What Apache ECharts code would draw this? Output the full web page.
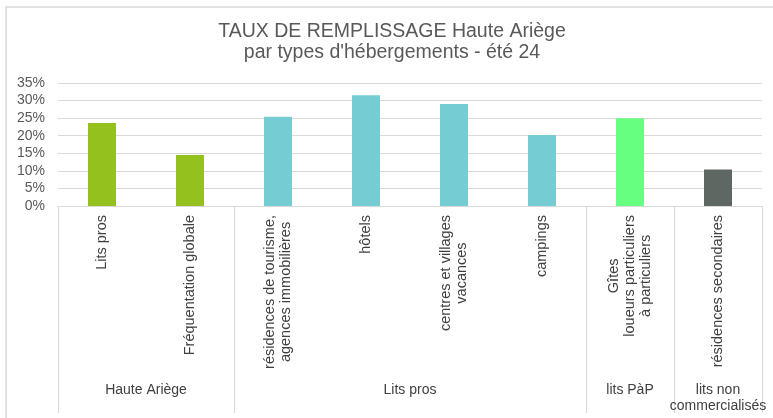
<!DOCTYPE html>
<html>
<head>
<meta charset="utf-8">
<script src="https://cdn.jsdelivr.net/npm/echarts@6/dist/echarts.min.js"></script>
<style>
  html, body { margin: 0; padding: 0; background: #ffffff; }
  #chart { width: 773px; height: 418px; }
</style>
</head>
<body>
<div id="chart"></div>
<script>
// Occupancy rate by accommodation type, summer 2024 (%)
const categories = [
  'Lits pros',
  'Fréquentation globale',
  'résidences de tourisme,\nagences immobilières',
  'hôtels',
  'centres et villages\nvacances',
  'campings',
  'Gîtes\nloueurs particuliers\nà particuliers',
  'résidences secondaires'
];
const values = [23.6, 14.5, 25.4, 31.5, 29.0, 20.2, 25.0, 10.4];

// Category groups shown on the second axis level
const groupNames = ['Haute Ariège', 'Lits pros', 'lits PàP', 'lits non\ncommercialisés'];
const groupSizes = [2, 4, 1, 1];
const groupColors = ['#95c11f', '#75cdd3', '#66ff7f', '#5e6762'];

// Y axis ticks (%)
const yTicks = [0, 5, 10, 15, 20, 25, 30, 35];

// Group boundaries and centres in category units
const boundaries = [0];
const centres = [];
groupSizes.forEach(function (n) {
  const start = boundaries[boundaries.length - 1];
  boundaries.push(start + n);
  centres.push(start + n / 2);
});

// Colour of each bar comes from the group it belongs to
const barColors = [];
groupSizes.forEach(function (n, g) {
  for (let i = 0; i < n; i++) barColors.push(groupColors[g]);
});

const FONT = 'Liberation Sans, Arial, sans-serif';

const chart = echarts.init(document.getElementById('chart'));
chart.setOption({
  backgroundColor: '#ffffff',
  animation: false,
  title: {
    text: 'TAUX DE REMPLISSAGE Haute Ariège\npar types d\'hébergements - été 24',
    left: 387,
    top: 16,
    textAlign: 'center',
    textStyle: {
      fontFamily: FONT,
      fontSize: 19.5,
      fontWeight: 'normal',
      color: '#595959',
      lineHeight: 21
    }
  },
  graphic: [{
    type: 'rect',
    shape: { x: 6, y: 7, width: 820, height: 440 },
    style: { fill: 'none', stroke: '#d9d9d9', lineWidth: 1.5 },
    silent: true
  }],
  grid: { left: 58, right: 11, top: 83, bottom: 212, containLabel: false },
  xAxis: [{
    type: 'category',
    data: categories,
    boundaryGap: true,
    axisLine: { lineStyle: { color: '#d9d9d9', width: 1 } },
    axisTick: { show: false },
    axisLabel: {
      interval: 0,
      rotate: 90,
      margin: 9,
      formatter: function (v) {
        return v.split('\n').map(function (l) { return '{c|' + l + '}'; }).join('\n');
      },
      rich: {
        c: { align: 'center', fontFamily: FONT, fontSize: 14.5, lineHeight: 16, color: '#404040' }
      }
    },
    splitLine: { show: false }
  }, {
    type: 'value',
    min: 0,
    max: categories.length,
    position: 'bottom',
    axisLine: { show: false },
    splitLine: { show: false },
    axisTick: {
      show: true,
      customValues: boundaries,
      length: 207,
      lineStyle: { color: '#d9d9d9', width: 1 }
    },
    axisLabel: {
      customValues: centres,
      margin: 176,
      fontFamily: FONT,
      fontSize: 14,
      lineHeight: 16,
      color: '#404040',
      formatter: function (v) {
        const i = centres.indexOf(v);
        return i >= 0 ? groupNames[i] : '';
      }
    }
  }],
  yAxis: {
    type: 'value',
    min: yTicks[0],
    max: yTicks[yTicks.length - 1],
    interval: yTicks[1] - yTicks[0],
    axisLine: { show: false },
    axisTick: { show: false },
    axisLabel: {
      margin: 13,
      fontFamily: FONT,
      fontSize: 14,
      color: '#595959',
      formatter: '{value}%'
    },
    splitLine: { lineStyle: { color: '#d9d9d9', width: 1 } }
  },
  series: [{
    type: 'bar',
    xAxisIndex: 0,
    barWidth: 28,
    data: values.map(function (v, i) {
      return { value: v, itemStyle: { color: barColors[i] } };
    })
  }]
});
</script>
</body>
</html>
